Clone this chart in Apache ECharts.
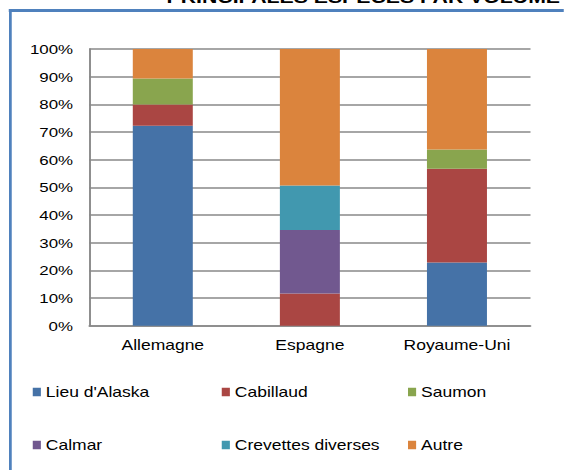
<!DOCTYPE html>
<html>
<head>
<meta charset="utf-8">
<script src="https://cdn.jsdelivr.net/npm/echarts@6/dist/echarts.min.js"></script>
<style>
  html, body { margin: 0; padding: 0; background: #fff; overflow: hidden; }
  /* chart is laid out at 451.2px and widened to 564px, giving the wide Arial look */
  #chart { width: 451.2px; height: 470px; transform: scaleX(1.25); transform-origin: 0 0; }
</style>
</head>
<body>
<div id="chart"></div>
<script>
// Species share by volume, per country (percent of total)
var countries = ['Allemagne', 'Espagne', 'Royaume-Uni'];
var speciesNames = ['Lieu d\'Alaska', 'Cabillaud', 'Saumon', 'Calmar', 'Crevettes diverses', 'Autre'];
var lieuAlaska = [72.3, 0, 22.8];
var cabillaud  = [7.6, 11.6, 33.9];
var saumon     = [9.4, 0, 7.0];
var calmar     = [0, 23.0, 0];
var crevettes  = [0, 16.1, 0];
var autre      = [10.7, 49.3, 36.3];
var yTicks = { min: 0, max: 100, step: 10 };
var titleText = 'PRINCIPALES ESPÈCES PAR VOLUME';

var colors = ['#4572A7', '#AA4643', '#89A54E', '#71588F', '#4198AF', '#DB843D'];
var values = [lieuAlaska, cabillaud, saumon, calmar, crevettes, autre];
var FONT = '"Liberation Sans", Arial, sans-serif';

var chart = echarts.init(document.getElementById('chart'), null, { renderer: 'svg' });

var series = speciesNames.map(function (name, i) {
  return {
    name: name,
    type: 'bar',
    stack: 'total',
    barWidth: 48,
    itemStyle: { color: colors[i] },
    data: values[i]
  };
});

// legend laid out as a 3 x 2 grid: one legend component per entry
var legendCols = [26.2, 177.4, 326.4];
var legendRows = [385, 438];
var legends = speciesNames.map(function (name, i) {
  return {
    data: [name],
    left: legendCols[i % 3],
    top: legendRows[Math.floor(i / 3)],
    icon: 'rect',
    itemWidth: 6.5,
    itemHeight: 8.5,
    padding: 0,
    selectedMode: false,
    textStyle: { fontFamily: FONT, fontSize: 14, color: '#000', padding: [0, 0, 0, -1] }
  };
});

chart.setOption({
  animation: false,
  color: colors,
  grid: { left: 71.4, right: 26.6, top: 49, bottom: 144.3 },
  xAxis: {
    type: 'category',
    data: countries,
    axisLine: { show: true, lineStyle: { color: '#888', width: 1.5 } },
    axisTick: { show: false },
    axisLabel: { fontFamily: FONT, fontSize: 14, color: '#000', margin: 12 },
    splitLine: { show: false }
  },
  yAxis: {
    type: 'value',
    min: yTicks.min,
    max: yTicks.max,
    interval: yTicks.step,
    axisLine: { show: true, lineStyle: { color: '#888', width: 1.5 } },
    axisTick: { show: false },
    axisLabel: { fontFamily: FONT, fontSize: 13.5, color: '#000', margin: 13, formatter: '{value}%' },
    splitLine: { show: true, lineStyle: { color: '#888', width: 1.5 } }
  },
  legend: legends,
  graphic: [
    {
      type: 'line',
      shape: { x1: 7, y1: 10.5, x2: 460, y2: 10.5 },
      style: { stroke: '#4F81BD', lineWidth: 3 }
    },
    {
      type: 'line',
      shape: { x1: 8.3, y1: 9, x2: 8.3, y2: 480 },
      style: { stroke: '#4F81BD', lineWidth: 2.2 }
    },
    {
      type: 'text',
      x: 448,
      y: -2.8,
      style: {
        text: titleText,
        align: 'right',
        verticalAlign: 'middle',
        fontFamily: FONT,
        fontWeight: 'bold',
        fontSize: 17,
        fill: '#000'
      }
    }
  ],
  series: series
});
</script>
</body>
</html>
